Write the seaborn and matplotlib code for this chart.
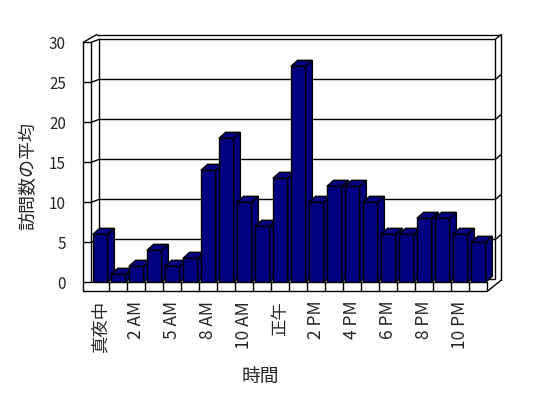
import matplotlib

matplotlib.use("Agg")
import matplotlib.pyplot as plt
import pandas as pd
import seaborn as sns
from matplotlib.lines import Line2D
from matplotlib.patches import Polygon
from matplotlib.transforms import IdentityTransform

# data
hours = ["真夜中", "1 AM", "2 AM", "4 AM", "5 AM", "7 AM", "8 AM", "9 AM", "10 AM", "11 AM",
         "正午", "1 PM", "2 PM", "3 PM", "4 PM", "5 PM", "6 PM", "7 PM", "8 PM", "9 PM",
         "10 PM", "11 PM"]
visits = [6, 1, 2, 4, 2, 3, 14, 18, 10, 7, 13, 27, 10, 12, 12, 10, 6, 6, 8, 8, 6, 5]
y_ticks = [0, 5, 10, 15, 20, 25, 30]
x_label = "時間"
y_label = "訪問数の平均"

BAR_COLOR = "#000080"
DPI = 100
WALL = 8        # left wall thickness, px
FLOOR = 9       # floor thickness, px
BACK = (8, 3)   # offset of the back wall, px
DEPTH = (6.7, 6)  # bar depth, px

sns.set_style("white")
plt.rcParams["font.family"] = ["Noto Sans CJK JP", "DejaVu Sans"]

fig = plt.figure(figsize=(5.48, 3.98), dpi=DPI)
ax = fig.add_axes([91.3 / 548, (398 - 282.3) / 398, 396 / 548, 240 / 398])

df = pd.DataFrame({"hour": hours, "visits": visits})
sns.barplot(data=df, x="hour", y="visits", color=BAR_COLOR, saturation=1,
            width=0.82, edgecolor="black", linewidth=1, ax=ax)
bars = sorted(ax.patches, key=lambda p: p.get_x())

x0, x1 = -0.5, len(hours) - 0.5
top = y_ticks[-1]
ax.set_xlim(x0, x1)
ax.set_ylim(0, top)
sns.despine(ax=ax, left=True, bottom=True)
ax.grid(False)


def px(x, y, dx=0, dy=0):
    X, Y = ax.transData.transform((x, y))
    return (X + dx, Y + dy)


def poly(pts, z, fc="white"):
    ax.add_patch(Polygon(pts, closed=True, facecolor=fc, edgecolor="black", lw=1,
                         transform=IdentityTransform(), clip_on=False, zorder=z))


def line(a, b, z=1.5):
    ax.add_line(Line2D([a[0], b[0]], [a[1], b[1]], color="black", lw=1,
                       transform=IdentityTransform(), clip_on=False, zorder=z))


# back wall with gridlines
poly([px(x0, 0, *BACK), px(x1, 0, *BACK), px(x1, top, *BACK), px(x0, top, *BACK)], 0.5)
for v in y_ticks[1:-1]:
    line(px(x0, v, *BACK), px(x1, v, *BACK))
    line(px(x0, v), px(x0, v, *BACK))
    line(px(x1, v, *BACK), px(x1, v, 14, 7.8))

# left wall + floor front face
poly([px(x0, top, -WALL, 0), px(x0, top), px(x0, 0), px(x1, 0),
      px(x1, 0, 0, -FLOOR), px(x0, 0, -WALL, -FLOOR)], 2)
for v in y_ticks[:-1]:
    line(px(x0, v, -WALL, 0), px(x0, v), z=2.1)
for k in range(1, len(hours)):
    line(px(k - 0.5, 0), px(k - 0.5, 0, 0, -FLOOR), z=2.1)

# outer edges of the box
otl = px(x0, top, -WALL + 13.5, 7.8)
otr = px(x1, top, 14, 7.8)
line(px(x0, top, -WALL, 0), otl)
line(px(x0, top), px(x0, top, *BACK))
line(otl, otr)
line(px(x1, top, *BACK), otr)
line(otr, px(x1, 0, 14, 2.3))
line(px(x1, 0, 0, -FLOOR), px(x1, 0, 14, 2.3))

# 3d faces of the bars
dx, dy = DEPTH
for i, bar in enumerate(bars):
    z = 3 + i * 0.1
    bar.set_zorder(z)
    left, right = bar.get_x(), bar.get_x() + bar.get_width()
    h = bar.get_height()
    poly([px(right, 0), px(right, h), px(right, h, dx, dy), px(right, 0, dx, dy)], z + 0.05, BAR_COLOR)
    poly([px(left, h), px(right, h), px(right, h, dx, dy), px(left, h, dx, dy)], z + 0.05, BAR_COLOR)

ax.set_yticks(y_ticks)
ax.set_yticklabels([str(v) for v in y_ticks], fontsize=11)
ax.set_xticks(range(0, len(hours), 2))
ax.set_xticklabels(hours[::2], rotation=90, fontsize=12.5)
ax.tick_params(axis="y", length=0, pad=18.2)
ax.tick_params(axis="x", length=0, pad=13.3)

ax.set_xlabel(x_label, fontsize=13.5)
ax.xaxis.set_label_coords(0.426, -0.35)
ax.set_ylabel(y_label, fontsize=13)
ax.yaxis.set_label_coords(-0.136, 0.443)

fig.savefig("out.png", dpi=DPI)
